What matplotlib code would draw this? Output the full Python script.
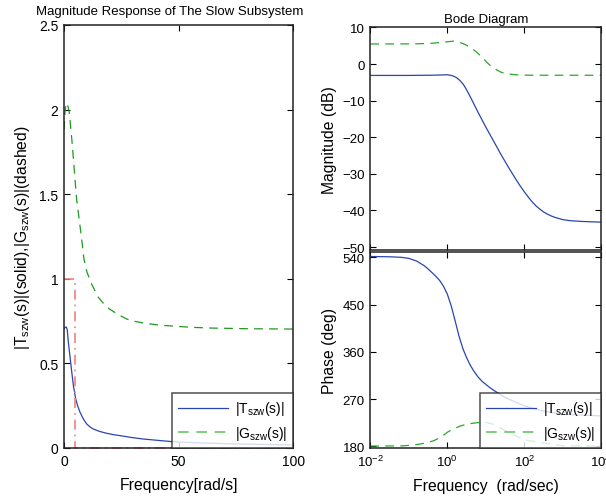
import numpy as np
import matplotlib
matplotlib.use("Agg")
import matplotlib.pyplot as plt
from matplotlib.lines import Line2D

plt.rcParams['font.family'] = ['Liberation Sans', 'DejaVu Sans']
plt.rcParams['mathtext.fontset'] = 'custom'
plt.rcParams['mathtext.rm'] = 'Liberation Sans'
plt.rcParams['mathtext.it'] = 'Liberation Sans:italic'
plt.rcParams['mathtext.bf'] = 'Liberation Sans:bold'

# ---------------- data: left (linear frequency) ----------------
lin_freq_T = [0, 0.5, 1.0, 1.4, 1.9, 2.4, 2.9, 3.5, 4.1, 5.1, 6.0, 7.0, 8.5, 9.9, 11.3,
              12.8, 15.5, 18.6, 21.5, 24.5, 29, 34.6, 41, 47.7, 60, 75, 100]
T_lin = [0.705, 0.712, 0.715, 0.70, 0.625, 0.565, 0.506, 0.435, 0.368, 0.29, 0.247,
         0.211, 0.17, 0.142, 0.125, 0.112, 0.098, 0.087, 0.079, 0.073, 0.063, 0.053,
         0.045, 0.037, 0.030, 0.024, 0.018]

lin_freq_G = [0, 0.44, 0.8, 1.2, 1.7, 2.3, 2.8, 3.4, 4.1, 4.8, 5.5, 6.6, 7.7, 8.7, 10,
              12, 15, 17.5, 20, 23.5, 27.4, 31, 34.6, 41, 49, 56, 63.8, 80, 100]
G_lin = [1.88, 1.984, 2.025, 2.04, 2.02, 1.984, 1.91, 1.826, 1.708, 1.59, 1.47, 1.353,
         1.235, 1.117, 1.04, 0.97, 0.89, 0.85, 0.82, 0.79, 0.762, 0.748, 0.739, 0.727,
         0.719, 0.713, 0.709, 0.705, 0.703]

ideal_freq = [0, 5, 5, 100]
ideal_mag = [1, 1, 0, 0]

# ---------------- data: Bode (log10 of frequency) ----------------
magT_logw = [-2, -1.5, -1, -0.5, -0.2, -0.1, 0, 0.07, 0.15, 0.24, 0.33, 0.42, 0.5, 0.6,
             0.7, 0.8, 0.9, 1.0, 1.1, 1.2, 1.3, 1.4, 1.5, 1.6, 1.7, 1.8, 1.9, 2.0, 2.1,
             2.2, 2.3, 2.4, 2.5, 2.6, 2.7, 2.8, 2.9, 3.0, 3.2, 3.5, 4]
magT_dB = [-3.1, -3.1, -3.1, -3.05, -3.0, -2.95, -2.92, -3.04, -3.25, -3.7, -4.5, -5.6,
           -7.0, -9.0, -11.1, -13.2, -15.2, -17.2, -19.1, -21.0, -22.9, -24.8, -26.6,
           -28.4, -30.1, -31.8, -33.4, -34.9, -36.3, -37.6, -38.7, -39.6, -40.4, -41.0,
           -41.5, -41.9, -42.2, -42.5, -42.8, -43.0, -43.2]

magG_logw = [-2, -1.5, -1, -0.71, -0.36, -0.1, 0, 0.16, 0.22, 0.29, 0.37, 0.45, 0.52,
             0.59, 0.67, 0.76, 0.85, 0.94, 1.02, 1.11, 1.2, 1.28, 1.37, 1.45, 1.54, 1.7,
             1.89, 2.2, 3, 4]
magG_dB = [5.5, 5.5, 5.52, 5.56, 5.72, 6.0, 6.1, 6.27, 6.2, 6.0, 5.75, 5.4, 5.05, 4.64,
           4.0, 3.3, 2.4, 1.48, 0.55, -0.33, -1.0, -1.55, -2.1, -2.4, -2.6, -2.85, -3.0,
           -3.05, -3.05, -3.05]

phT_logw = [-2, -1.5, -1.2, -1.0, -0.8, -0.6, -0.5, -0.4, -0.3, -0.2, -0.1, 0.0, 0.1,
            0.2, 0.3, 0.4, 0.5, 0.6, 0.7, 0.8, 0.9, 1.0, 1.1, 1.2, 1.35, 1.5, 2.0, 2.5,
            3.0, 4]
phT_deg = [541.5, 541, 540, 538, 533, 524, 518, 511, 504, 496, 485, 470, 448, 420, 391,
           367, 349, 334, 322, 312, 304, 298, 292, 287, 280, 273, 257, 247, 241, 238]

phG_logw = [-2, -1.5, -1.14, -0.9, -0.7, -0.5, -0.35, -0.2, -0.1, 0, 0.1, 0.2, 0.35,
            0.5, 0.7, 0.87, 1.0, 1.2, 1.5, 2, 3, 4]
phG_deg = [180.5, 180.7, 181, 182.3, 184.4, 187.5, 190.8, 196, 201, 206.7, 211, 214.5,
           219, 222, 224.4, 225.7, 225.5, 222, 210, 192, 181, 180.5]

legend_labels = [r'|T$_{\mathregular{szw}}$(s)|', r'|G$_{\mathregular{szw}}$(s)|']

# ---------------- styles ----------------
blue = '#2a45b2'
green = '#1f9a1f'
green_r = '#2aa82a'
green_leg = '#5cc05c'
red = '#f08080'
spine_c = '#222222'
dash = (0, (7, 5))

fig = plt.figure(figsize=(6.06, 5.02), dpi=100)


def style_axes(ax, fs):
    for s in ax.spines.values():
        s.set_linewidth(1.1)
        s.set_color(spine_c)
    ax.tick_params(direction='in', top=True, right=True, length=4, width=0.8,
                   labelsize=fs, colors='black', pad=4)
    ax.tick_params(which='minor', length=0)


handles = [Line2D([], [], color=blue, lw=0.9),
           Line2D([], [], color=green_leg, lw=1.1, ls=dash)]


def add_legend(ax):
    leg = ax.legend(handles, legend_labels, loc='lower right', fontsize=10,
                    frameon=True, fancybox=False, borderaxespad=0,
                    handlelength=3.6, handletextpad=0.5, labelspacing=0.45,
                    borderpad=0.45)
    leg.get_frame().set_edgecolor(spine_c)
    leg.get_frame().set_linewidth(1.1)
    return leg


# ---------- left ----------
ax1 = fig.add_axes([64/606, 53/502, 229.3/606, 423/502])
ax1.plot(lin_freq_T, T_lin, color=blue, lw=0.9)
ax1.plot(lin_freq_G, G_lin, color=green, lw=0.9, ls=dash)
ax1.plot(ideal_freq, ideal_mag, color=red, lw=1.2, ls=(0, (6, 3, 1, 3)), clip_on=False)
ax1.set_xlim(0, 100)
ax1.set_ylim(0, 2.5)
ax1.set_xticks([0, 50, 100])
ax1.set_yticks([0, 0.5, 1, 1.5, 2, 2.5])
ax1.set_yticklabels(['0', '0.5', '1', '1.5', '2', '2.5'])
style_axes(ax1, 10)
ax1.set_title('Magnitude Response of The Slow Subsystem', fontsize=9.5, pad=8, x=0.46)
ax1.set_xlabel('Frequency[rad/s]', fontsize=11.3, labelpad=7)
ax1.set_ylabel(r'|T$_{\mathregular{szw}}$(s)|(solid),|G$_{\mathregular{szw}}$(s)|(dashed)',
               fontsize=11.3, labelpad=5)
add_legend(ax1)

# ---------- right magnitude ----------
ax2 = fig.add_axes([370.3/606, 251/502, 231/606, 222.7/502])
ax2.semilogx(10.0**np.array(magT_logw), magT_dB, color=blue, lw=0.9)
ax2.semilogx(10.0**np.array(magG_logw), magG_dB, color=green_r, lw=0.9, ls=dash)
ax2.set_xlim(1e-2, 1e4)
ax2.set_ylim(-50.8, 10.05)
ax2.set_xticks([1e-2, 1e0, 1e2, 1e4])
ax2.set_xticklabels([])
ax2.set_yticks([10, 0, -10, -20, -30, -40, -50])
ax2.set_yticklabels(['10', '0', '\u221210', '\u221220', '\u221230', '\u221240', '\u221250'])
style_axes(ax2, 9.5)
ax2.set_title('Bode Diagram', fontsize=9.5, pad=4)
ax2.set_ylabel('Magnitude (dB)', fontsize=11.3, labelpad=4)

# ---------- right phase ----------
ax3 = fig.add_axes([370.3/606, 53/502, 231/606, 196/502])
ax3.semilogx(10.0**np.array(phT_logw), phT_deg, color=blue, lw=0.9)
ax3.semilogx(10.0**np.array(phG_logw), phG_deg, color=green_r, lw=0.9, ls=dash)
ax3.set_xlim(1e-2, 1e4)
ax3.set_ylim(176.8, 550.1)
ax3.set_xticks([1e-2, 1e0, 1e2, 1e4])
ax3.set_xticklabels([r'$\mathregular{10^{-2}}$', r'$\mathregular{10^{0}}$',
                     r'$\mathregular{10^{2}}$', r'$\mathregular{10^{4}}$'])
ax3.set_yticks([180, 270, 360, 450, 540])
style_axes(ax3, 9.5)
ax3.set_xlabel('Frequency  (rad/sec)', fontsize=11.3, labelpad=7)
ax3.set_ylabel('Phase (deg)', fontsize=11.3, labelpad=4)
add_legend(ax3)

fig.savefig('out.png', dpi=100)
